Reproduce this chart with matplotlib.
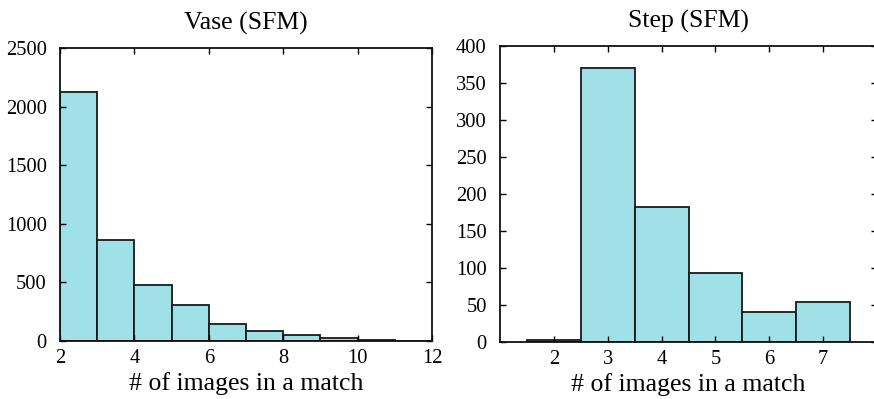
import numpy as np
import matplotlib
matplotlib.use("Agg")
import matplotlib.pyplot as plt

plt.rcParams['font.family'] = ['Liberation Serif', 'DejaVu Serif']
plt.rcParams['mathtext.fontset'] = 'stix'

# Vase (SFM): histogram bins of width 1 starting at 2
vase_left_edges = [2, 3, 4, 5, 6, 7, 8, 9, 10, 11]
vase_counts = [2125, 865, 475, 304, 148, 85, 51, 28, 12, 3]

# Step (SFM): bars centred on integer values
step_centers = [2, 3, 4, 5, 6, 7]
step_counts = [3, 370, 182, 93, 41, 54]

bar_color = '#9FE1E7'
edge_color = '#1a1a1a'

fig = plt.figure(figsize=(8.74, 3.99), dpi=100)
ax1 = fig.add_axes([0.0687, 0.1454, 0.4256, 0.7343])
ax2 = fig.add_axes([0.5721, 0.1429, 0.4314, 0.7419])

ax1.bar(vase_left_edges, vase_counts, width=1.0, align='edge',
        color=bar_color, edgecolor=edge_color, linewidth=1.3)
ax1.set_xlim(2, 12)
ax1.set_ylim(0, 2500)
ax1.set_xticks([2, 4, 6, 8, 10, 12])
ax1.set_yticks([0, 500, 1000, 1500, 2000, 2500])
ax1.set_title('Vase (SFM)', fontsize=18.5, pad=13)
ax1.set_xlabel('# of images in a match', fontsize=18.5, labelpad=3)

ax2.bar(step_centers, step_counts, width=1.0, align='center',
        color=bar_color, edgecolor=edge_color, linewidth=1.3)
ax2.set_xlim(1, 8)
ax2.set_ylim(0, 400)
ax2.set_xticks(step_centers)
ax2.set_yticks(np.arange(0, 401, 50))
ax2.set_title('Step (SFM)', fontsize=18.5, pad=13)
ax2.set_xlabel('# of images in a match', fontsize=18.5, labelpad=3)

for ax in (ax1, ax2):
    ax.tick_params(direction='in', top=True, right=True, length=4,
                   width=1.0, labelsize=14.8)
    ax.tick_params(axis='y', pad=9.5)
    ax.tick_params(axis='x', pad=6)
    for sp in ax.spines.values():
        sp.set_linewidth(1.3)
        sp.set_color('#111111')

fig.savefig('out.png', dpi=100)
